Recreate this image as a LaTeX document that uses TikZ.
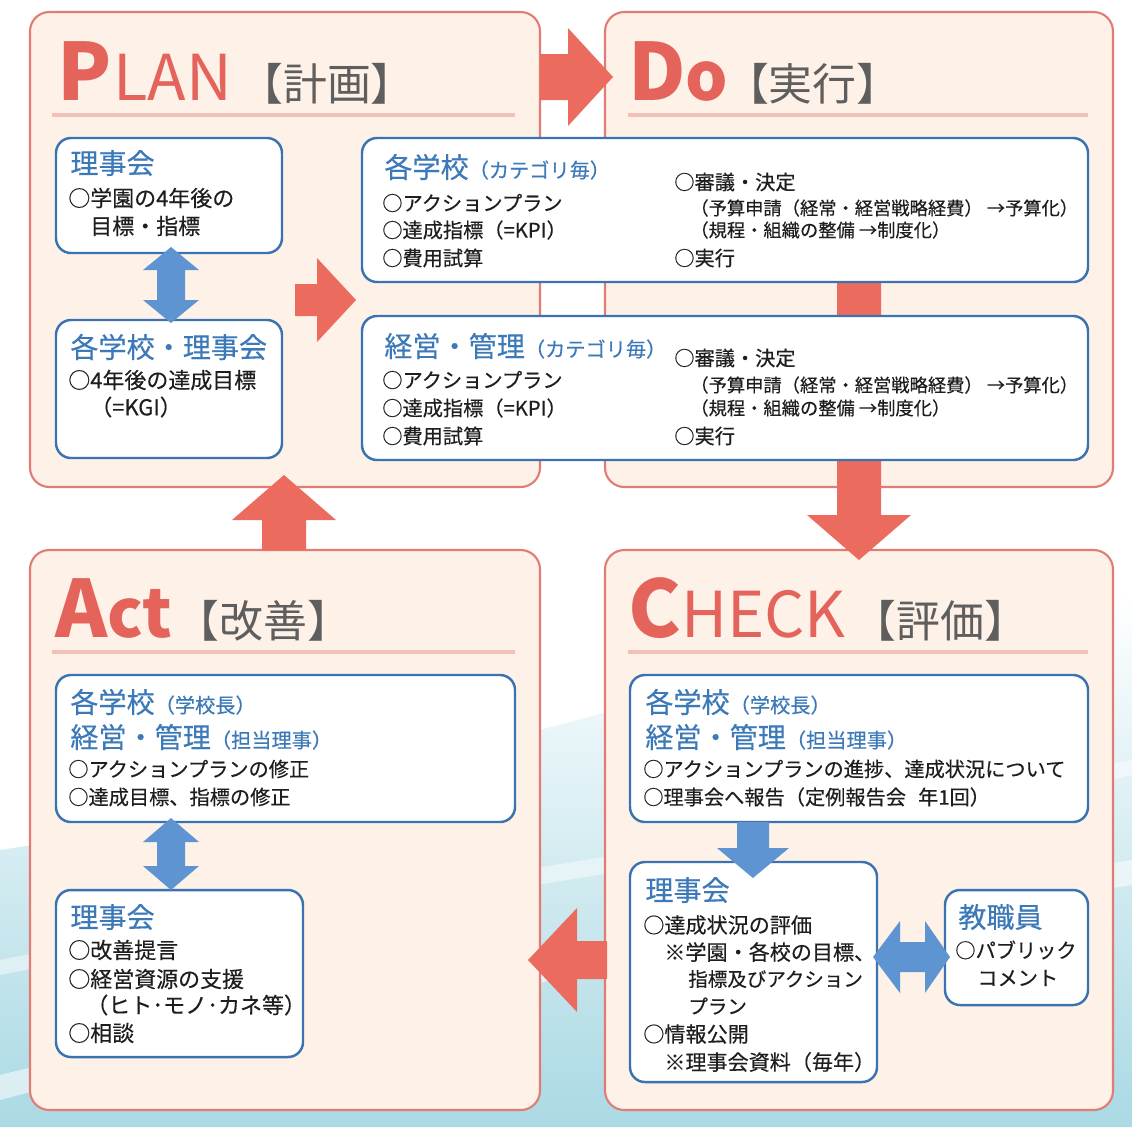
\documentclass[tikz,border=0pt]{standalone}
\usepackage{fontspec}
\setmainfont{Noto Sans CJK JP}[FakeBold=0.35]
\newfontfamily\titlefont{Noto Sans CJK JP}
\definecolor{panelfill}{HTML}{FDF1E8}
\definecolor{panelline}{HTML}{E07C74}
\definecolor{salmon}{HTML}{EC6B5F}
\definecolor{titlered}{HTML}{E4645C}
\definecolor{titlegray}{HTML}{5E5E5E}
\definecolor{headline}{HTML}{F2C2B8}
\definecolor{boxline}{HTML}{3A72B2}
\definecolor{headblue}{HTML}{3C79B9}
\definecolor{arrowblue}{HTML}{5F94D3}
\definecolor{bodytext}{HTML}{1E1E1E}
\definecolor{bgblue}{HTML}{98D0EC}
\definecolor{bgteal}{HTML}{AAD9E4}
\newcommand\fshead{\fontsize{16pt}{19pt}\selectfont}
\newcommand\fssmall{\fontsize{11.5pt}{14pt}\selectfont}
\newcommand\fsbody{\fontsize{11.5pt}{14pt}\selectfont}
\newcommand\fsbodyL{\fontsize{12.5pt}{15pt}\selectfont}
\newcommand\fsbodyM{\fontsize{12pt}{15pt}\selectfont}
\newcommand\fsbodyS{\fontsize{11.1pt}{14pt}\selectfont}
\newcommand\fsparen{\fontsize{10.4pt}{12pt}\selectfont}
\newcommand\tbig{\titlefont\fontsize{45pt}{45pt}\selectfont\bfseries}
\newcommand\tmid{\titlefont\fontsize{38pt}{38pt}\selectfont\bfseries}
\newcommand\tsmall{\titlefont\fontsize{36pt}{36pt}\selectfont\mdseries}
\newcommand\tbr{\titlefont\fontsize{25pt}{25pt}\selectfont\mdseries\color{titlegray}}
\newcommand\mkbox[6]{\node[#1, minimum width={(#5-#3)*0.02cm}, minimum height={(#6-#4)*0.02cm}] (#2) at ({(#3+#5)/2},{(#4+#6)/2}) {};}
% horizontal arrow: style, x-start, x-headbase, x-tip, yc, bodyhalf, headhalf
\newcommand\harrow[7]{\fill[#1] ({#2},{#5-#6}) -- ({#3},{#5-#6}) -- ({#3},{#5-#7}) -- ({#4},{#5}) -- ({#3},{#5+#7}) -- ({#3},{#5+#6}) -- ({#2},{#5+#6}) -- cycle;}
% vertical arrow: style, y-start, y-headbase, y-tip, xc, bodyhalf, headhalf
\newcommand\varrow[7]{\fill[#1] ({#5-#6},{#2}) -- ({#5-#6},{#3}) -- ({#5-#7},{#3}) -- ({#5},{#4}) -- ({#5+#7},{#3}) -- ({#5+#6},{#3}) -- ({#5+#6},{#2}) -- cycle;}
% double arrows: style, tip1, base1, base2, tip2, center, bodyhalf, headhalf
\newcommand\hdarrow[8]{\fill[#1] ({#2},{#6}) -- ({#3},{#6-#8}) -- ({#3},{#6-#7}) -- ({#4},{#6-#7}) -- ({#4},{#6-#8}) -- ({#5},{#6}) -- ({#4},{#6+#8}) -- ({#4},{#6+#7}) -- ({#3},{#6+#7}) -- ({#3},{#6+#8}) -- cycle;}
\newcommand\vdarrow[8]{\fill[#1] ({#6},{#2}) -- ({#6-#8},{#3}) -- ({#6-#7},{#3}) -- ({#6-#7},{#4}) -- ({#6-#8},{#4}) -- ({#6},{#5}) -- ({#6+#8},{#4}) -- ({#6+#7},{#4}) -- ({#6+#7},{#3}) -- ({#6+#8},{#3}) -- cycle;}
\tikzset{
  panel/.style={draw=panelline, line width=1.2pt, fill=panelfill, rounded corners=11pt, inner sep=0pt, outer sep=0pt},
  bbox/.style={draw=boxline, line width=1.4pt, fill=white, rounded corners=8.5pt, inner sep=0pt, outer sep=0pt},
  ttl/.style={anchor=base west, inner sep=0pt, text=titlered},
  hd/.style={anchor=west, inner sep=0pt, text=headblue, font=\fshead},
  tx/.style={anchor=west, inner sep=0pt, text=bodytext, font=\fsbody},
  txl/.style={tx, font=\fsbodyL},
  txm/.style={tx, font=\fsbodyM},
  txs/.style={tx, font=\fsbodyS},
  pt/.style={anchor=west, inner sep=0pt, text=bodytext, font=\fsparen},
  sarrow/.style={fill=salmon},
  barrow/.style={fill=arrowblue},
  hline/.style={draw=headline, line width=1.8pt},
}
\begin{document}
\begin{tikzpicture}[x=0.02cm,y=-0.02cm]
\useasboundingbox (0,0) rectangle (1132,1127);
% background
\fill[white] (0,0) rectangle (1132,1127);
\shade[top color=white, middle color=bgblue!75, bottom color=bgteal] (0,1127) -- (0,850) .. controls (400,790) and (800,640) .. (1132,590) -- (1132,1127) -- cycle;
\fill[white, opacity=0.55] (0,1075) .. controls (300,1000) and (700,930) .. (1132,860) -- (1132,885) .. controls (700,950) and (300,1020) .. (0,1100) -- cycle;
\fill[white, opacity=0.45] (0,960) .. controls (300,900) and (700,850) .. (1132,760) -- (1132,775) .. controls (700,870) and (300,915) .. (0,975) -- cycle;
% panels
\mkbox{panel}{plan}{30}{12}{540}{487}
\mkbox{panel}{do}{605}{12}{1113}{487}
\mkbox{panel}{act}{30}{550}{540}{1110}
\mkbox{panel}{check}{605}{550}{1113}{1110}
% big salmon arrows
\harrow{sarrow}{540}{568}{613}{77}{23}{49}
\varrow{sarrow}{270}{515}{560}{859}{22}{52}
\harrow{sarrow}{607}{577}{528}{960}{19}{52}
\varrow{sarrow}{550}{520}{475}{284}{22}{52}
\harrow{sarrow}{295}{317}{356}{300}{16}{42}
% title lines
\draw[hline] (52,115) -- (515,115);
\draw[hline] (628,115) -- (1088,115);
\draw[hline] (52,652) -- (515,652);
\draw[hline] (628,652) -- (1088,652);
% titles
\node[ttl] (tplan) at (57,100) {{\tbig P}\hspace{1pt}{\tsmall LAN}\hspace{4pt}{\tbr 【計画】}};
\node[ttl] (tdo) at (628,100) {{\tbig D}{\tmid o}\hspace{-2pt}{\tbr 【実行】}};
\node[ttl] (tact) at (55,637) {{\tbig A}{\tmid ct}\hspace{2pt}{\tbr 【改善】}};
\node[ttl] (tcheck) at (628,637) {{\tbig C}{\tsmall HECK}\hspace{4pt}{\tbr 【評価】}};
% white boxes
\mkbox{bbox}{pl1}{56}{138}{282}{253}
\mkbox{bbox}{pl2}{56}{320}{282}{458}
\mkbox{bbox}{do1}{362}{138}{1088}{282}
\mkbox{bbox}{do2}{362}{316}{1088}{460}
\mkbox{bbox}{ac1}{56}{675}{515}{822}
\mkbox{bbox}{ac2}{56}{890}{303}{1057}
\mkbox{bbox}{ch1}{630}{675}{1088}{822}
\mkbox{bbox}{ch2}{630}{862}{877}{1082}
\mkbox{bbox}{ch3}{945}{890}{1088}{1005}
% blue arrows
\vdarrow{barrow}{247}{270}{300}{323}{171}{14}{28}
\vdarrow{barrow}{818}{842}{866}{890}{171}{14}{28}
\varrow{barrow}{822}{848}{878}{753}{16}{36}
\hdarrow{barrow}{873}{900}{925}{950}{957}{15}{36}
% PLAN texts
\node[hd] (p1h) at (70,163) {理事会};
\node[txl] (p1a) at (68,198) {○学園の4年後の};
\node[txl] (p1b) at (90,226) {目標・指標};
\node[hd] (p2h) at (70,347) {各学校・理事会};
\node[txl] (p2a) at (68,380) {○4年後の達成目標};
\node[txl] (p2b) at (90,407) {（=KGI）};
% DO texts
\node[hd] (d1h) at (384,167) {各学校{\fssmall （カテゴリ毎）}};
\node[tx] (d1a) at (382,203) {○アクションプラン};
\node[tx] (d1b) at (382,230) {○達成指標（=KPI）};
\node[tx] (d1c) at (382,258) {○費用試算};
\node[tx] (d1d) at (674,182) {○審議・決定};
\node[pt] (d1e) at (690,208) {（予算申請（経常・経営戦略経費） →予算化）};
\node[pt] (d1f) at (690,230) {（規程・組織の整備 →制度化）};
\node[tx] (d1g) at (674,258) {○実行};
\node[hd] (d2h) at (384,346) {経営・管理{\fssmall （カテゴリ毎）}};
\node[tx] (d2a) at (382,380) {○アクションプラン};
\node[tx] (d2b) at (382,408) {○達成指標（=KPI）};
\node[tx] (d2c) at (382,436) {○費用試算};
\node[tx] (d2d) at (674,358) {○審議・決定};
\node[pt] (d2e) at (690,385) {（予算申請（経常・経営戦略経費） →予算化）};
\node[pt] (d2f) at (690,408) {（規程・組織の整備 →制度化）};
\node[tx] (d2g) at (674,436) {○実行};
% ACT texts
\node[hd] (a1h) at (70,702) {各学校{\fssmall （学校長）}};
\node[hd] (a1i) at (70,737) {経営・管理{\fssmall （担当理事）}};
\node[tx] (a1a) at (68,769) {○アクションプランの修正};
\node[tx] (a1b) at (68,797) {○達成目標、指標の修正};
\node[hd] (a2h) at (70,917) {理事会};
\node[txl] (a2a) at (68,950) {○改善提言};
\node[txl] (a2b) at (68,979) {○経営資源の支援};
\node[txl] (a2c) at (86,1005) {（ヒト･モノ･カネ等）};
\node[txl] (a2d) at (68,1033) {○相談};
% CHECK texts
\node[hd] (c1h) at (645,702) {各学校{\fssmall （学校長）}};
\node[hd] (c1i) at (645,737) {経営・管理{\fssmall （担当理事）}};
\node[tx] (c1a) at (643,769) {○アクションプランの進捗、達成状況について};
\node[tx] (c1b) at (643,797) {○理事会へ報告（定例報告会\hspace{0.6em}年1回）};
\node[hd] (c2h) at (645,890) {理事会};
\node[txm] (c2a) at (643,925) {○達成状況の評価};
\node[txm] (c2b) at (664,952) {※学園・各校の目標、};
\node[txs] (c2c) at (688,979) {指標及びアクション};
\node[txs] (c2d) at (688,1006) {プラン};
\node[txm] (c2e) at (643,1034) {○情報公開};
\node[txm] (c2f) at (664,1062) {※理事会資料（毎年）};
\node[hd] (c3h) at (958,917) {教職員};
\node[tx] (c3a) at (955,950) {○パブリック};
\node[tx] (c3b) at (977,978) {コメント};
\end{tikzpicture}
\end{document}
